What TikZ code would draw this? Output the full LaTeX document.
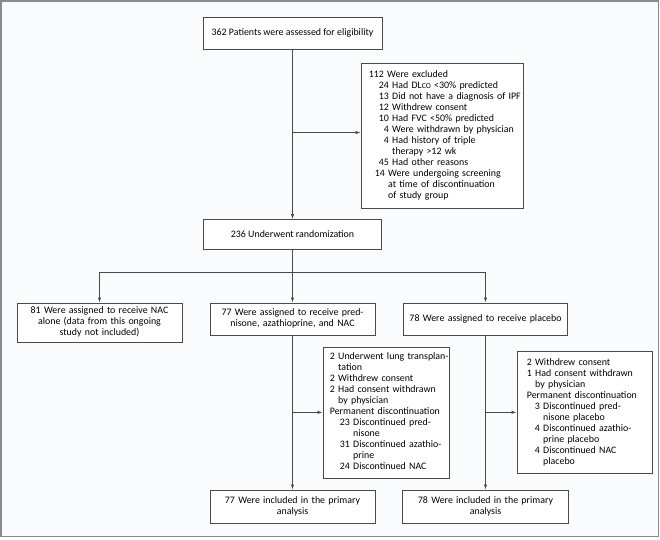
\documentclass[tikz,border=0pt]{standalone}
\usepackage{fontspec}
\setmainfont{Carlito}
\usetikzlibrary{arrows.meta}
\definecolor{linec}{HTML}{4A4A4A}
\definecolor{bgc}{HTML}{FAFBFD}
\definecolor{framec}{HTML}{8A8A8A}
\newcommand{\fsz}{\fontsize{9.9}{11}\selectfont}
\newcommand{\dlco}{DL{\fontsize{7.6}{11}\selectfont CO}}
\tikzset{
  box/.style={draw=linec, fill=white, line width=0.7pt, inner sep=0pt, font=\fsz, align=center},
  lbox/.style={draw=linec, fill=white, line width=0.7pt, inner ysep=0pt, font=\fsz, align=left},
  arr/.style={draw=linec, line width=0.75pt, -{Latex[length=5pt,width=3.4pt]}},
  ln/.style={draw=linec, line width=0.75pt}
}
\begin{document}
\begin{tikzpicture}[x=1pt,y=-1pt]
\useasboundingbox (0,0) rectangle (660,539);
\draw[framec, line width=1.6pt, fill=bgc] (1,1.2) rectangle (658.4,536.6);

\node[box, minimum width=179pt, minimum height=32pt] (box1) at (292.5,33) {362 Patients were assessed for eligibility};

\node[lbox, inner xsep=8pt, text width=146pt, minimum height=145pt, anchor=north west] (excl) at (360.5,62.5) {%
\begin{tabular}{@{}l@{}}
112 Were excluded\\
\hspace*{10pt}24 Had \dlco{} <30\% predicted\\
\hspace*{10pt}13 Did not have a diagnosis of IPF\\
\hspace*{10pt}12 Withdrew consent\\
\hspace*{10pt}10 Had FVC <50\% predicted\\
\hspace*{10pt}\phantom{1}4 Were withdrawn by physician\\
\hspace*{10pt}\phantom{1}4 Had history of triple\\
\hspace*{10pt}\phantom{14 }therapy >12 wk\\
\hspace*{10pt}45 Had other reasons\\
\hspace*{6pt}14 Were undergoing screening\\
\hspace*{6pt}\phantom{14 }at time of discontinuation\\
\hspace*{6pt}\phantom{14 }of study group
\end{tabular}};

\node[box, minimum width=178pt, minimum height=30pt] (rand) at (292.5,234.5) {236 Underwent randomization};

\node[box, text width=165pt, minimum height=39pt, anchor=north] (g1) at (99.5,302.5) {81 Were assigned to receive NAC\\alone (data from this ongoing\\study not included)};
\node[box, text width=165pt, minimum height=32pt, anchor=north] (g2) at (292.5,302.5) {77 Were assigned to receive pred-\\nisone, azathioprine, and NAC};
\node[box, text width=164pt, minimum height=32pt, anchor=north] (g3) at (485.5,302.5) {78 Were assigned to receive placebo};

\node[lbox, inner xsep=7pt, text width=112pt, minimum height=131pt, anchor=north west] (mex) at (322.5,346.5) {%
\begin{tabular}{@{}l@{}}
2 Underwent lung transplan-\\
\phantom{2 }tation\\
2 Withdrew consent\\
2 Had consent withdrawn\\
\phantom{2 }by physician\\
Permanent discontinuation\\
\hspace*{10pt}23 Discontinued pred-\\
\hspace*{10pt}\phantom{23 }nisone\\
\hspace*{10pt}31 Discontinued azathio-\\
\hspace*{10pt}\phantom{31 }prine\\
\hspace*{10pt}24 Discontinued NAC
\end{tabular}};

\node[lbox, inner xsep=10pt, text width=115pt, minimum height=122pt, anchor=north west] (rex) at (516.5,351) {%
\begin{tabular}{@{}l@{}}
2 Withdrew consent\\
1 Had consent withdrawn\\
\phantom{1 }by physician\\
Permanent discontinuation\\
\hspace*{8pt}3 Discontinued pred-\\
\hspace*{8pt}\phantom{3 }nisone placebo\\
\hspace*{8pt}4 Discontinued azathio-\\
\hspace*{8pt}\phantom{4 }prine placebo\\
\hspace*{8pt}4 Discontinued NAC\\
\hspace*{8pt}\phantom{4 }placebo
\end{tabular}};

\node[box, text width=165pt, minimum height=33pt, anchor=north] (f2) at (292.5,489.5) {77 Were included in the primary\\analysis};
\node[box, text width=166pt, minimum height=33pt, anchor=north] (f3) at (485.5,489.5) {78 Were included in the primary\\analysis};

% connectors
\coordinate (e1) at (box1.south |- 0,132.5);
\draw[arr] (box1.south) -- (rand.north);
\draw[arr] (e1) -- (e1 -| excl.west);

\coordinate (br) at (rand.south |- 0,272.5);
\draw[arr] (rand.south) -- (g2.north);
\draw[arr] (br) -| (g1.north);
\draw[arr] (br) -| (g3.north);

\draw[arr] (g2.south) -- (f2.north);
\draw[arr] (g2.south |- mex.west) -- (mex.west);
\draw[arr] (g3.south) -- (f3.north);
\draw[arr] (g3.south |- rex.west) -- (rex.west);
\end{tikzpicture}
\end{document}
